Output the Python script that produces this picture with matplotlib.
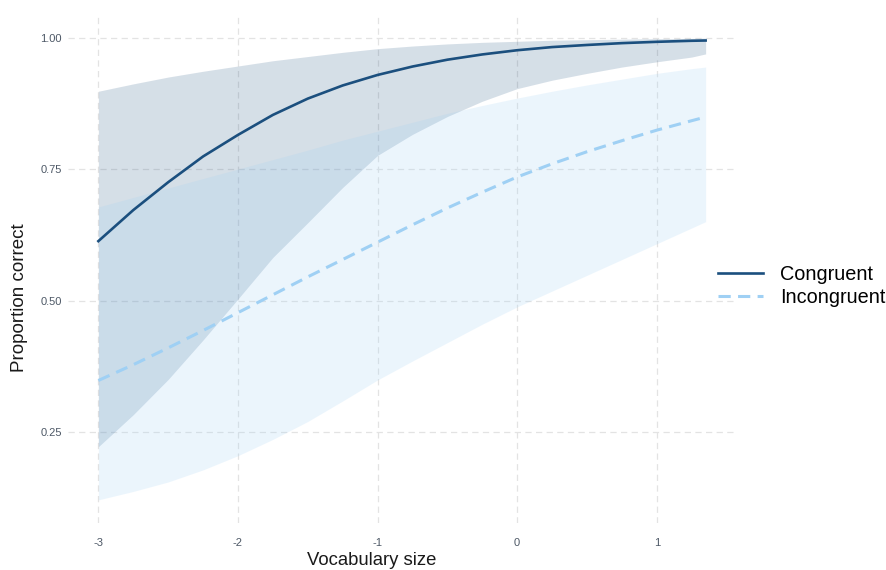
import matplotlib

matplotlib.use("Agg")

import matplotlib.pyplot as plt

vocab = [-3.0, -2.75, -2.5, -2.25, -2.0, -1.75, -1.5, -1.25, -1.0, -0.75,
         -0.5, -0.25, 0.0, 0.25, 0.5, 0.75, 1.0, 1.25, 1.35]

congruent_fit = [0.613, 0.672, 0.725, 0.774, 0.815, 0.853, 0.884, 0.909, 0.929, 0.945,
                 0.958, 0.968, 0.976, 0.982, 0.986, 0.9895, 0.992, 0.994, 0.9945]
congruent_low = [0.222, 0.283, 0.350, 0.425, 0.503, 0.582, 0.648, 0.715, 0.776, 0.816,
                 0.850, 0.879, 0.903, 0.919, 0.932, 0.944, 0.954, 0.963, 0.969]
congruent_high = [0.898, 0.912, 0.925, 0.936, 0.946, 0.956, 0.964, 0.972, 0.979, 0.984,
                  0.988, 0.991, 0.993, 0.995, 0.996, 0.997, 0.998, 0.9985, 0.999]

incongruent_fit = [0.348, 0.378, 0.410, 0.443, 0.477, 0.511, 0.545, 0.578, 0.611, 0.644,
                   0.676, 0.706, 0.735, 0.760, 0.783, 0.804, 0.824, 0.842, 0.849]
incongruent_low = [0.121, 0.137, 0.155, 0.178, 0.205, 0.236, 0.270, 0.309, 0.349, 0.385,
                   0.420, 0.455, 0.488, 0.518, 0.548, 0.578, 0.608, 0.638, 0.650]
incongruent_high = [0.678, 0.696, 0.714, 0.732, 0.750, 0.768, 0.786, 0.805, 0.822, 0.839,
                    0.856, 0.871, 0.885, 0.898, 0.910, 0.921, 0.932, 0.941, 0.944]

x_ticks = [-3, -2, -1, 0, 1]
y_ticks = [0.25, 0.50, 0.75, 1.00]

CONGRUENT_COLOR = "#1b4f7e"
INCONGRUENT_COLOR = "#9fd0f4"
GRID_COLOR = "#e3e3e3"
TICK_COLOR = "#4d5866"

plt.rcParams["font.family"] = ["Liberation Sans", "DejaVu Sans"]

fig = plt.figure(figsize=(8.87, 5.70), dpi=100)
ax = fig.add_axes([68 / 887, 47 / 570, (736 - 68) / 887, (523 - 15) / 570])

ax.fill_between(vocab, congruent_low, congruent_high, color=CONGRUENT_COLOR,
                alpha=0.18, linewidth=0, zorder=2)
ax.fill_between(vocab, incongruent_low, incongruent_high, color=INCONGRUENT_COLOR,
                alpha=0.2, linewidth=0, zorder=2)

ax.plot(vocab, congruent_fit, color=CONGRUENT_COLOR, linewidth=1.9,
        label="Congruent", zorder=3)
ax.plot(vocab, incongruent_fit, color=INCONGRUENT_COLOR, linewidth=2.2,
        linestyle=(0, (4, 2.4)), label="Incongruent", zorder=3)

x_span = vocab[-1] - vocab[0]
ax.set_xlim(vocab[0] - 0.05 * x_span, vocab[-1] + 0.05 * x_span)
ax.set_ylim(0.077, 1.043)
ax.set_xticks(x_ticks)
ax.set_xticklabels([str(v) for v in x_ticks])
ax.set_yticks(y_ticks)
ax.set_yticklabels([f"{v:.2f}" for v in y_ticks])

ax.grid(True, color=GRID_COLOR, linestyle=(0, (5, 3.5)), linewidth=0.9)
ax.set_axisbelow(True)
for spine in ax.spines.values():
    spine.set_visible(False)
ax.tick_params(length=0, labelsize=8, colors=TICK_COLOR)
ax.tick_params(axis="x", pad=10.5)
ax.tick_params(axis="y", pad=4.5)

ax.set_xlabel("Vocabulary size", fontsize=13.3, color="#1a1a1a", va="center")
ax.xaxis.set_label_coords(0.454, -0.073)
ax.set_ylabel("Proportion correct", fontsize=13.5, color="#1a1a1a",
              va="center", ha="center")
ax.yaxis.set_label_coords(-0.072, 0.443)

fig.legend(loc="center left", bbox_to_anchor=(718 / 887, 1 - 286 / 570),
           bbox_transform=fig.transFigure, frameon=False, fontsize=14.3,
           handlelength=2.26, handletextpad=0.85, labelspacing=0.24,
           borderpad=0, borderaxespad=0)

fig.savefig("out.png", dpi=100)
